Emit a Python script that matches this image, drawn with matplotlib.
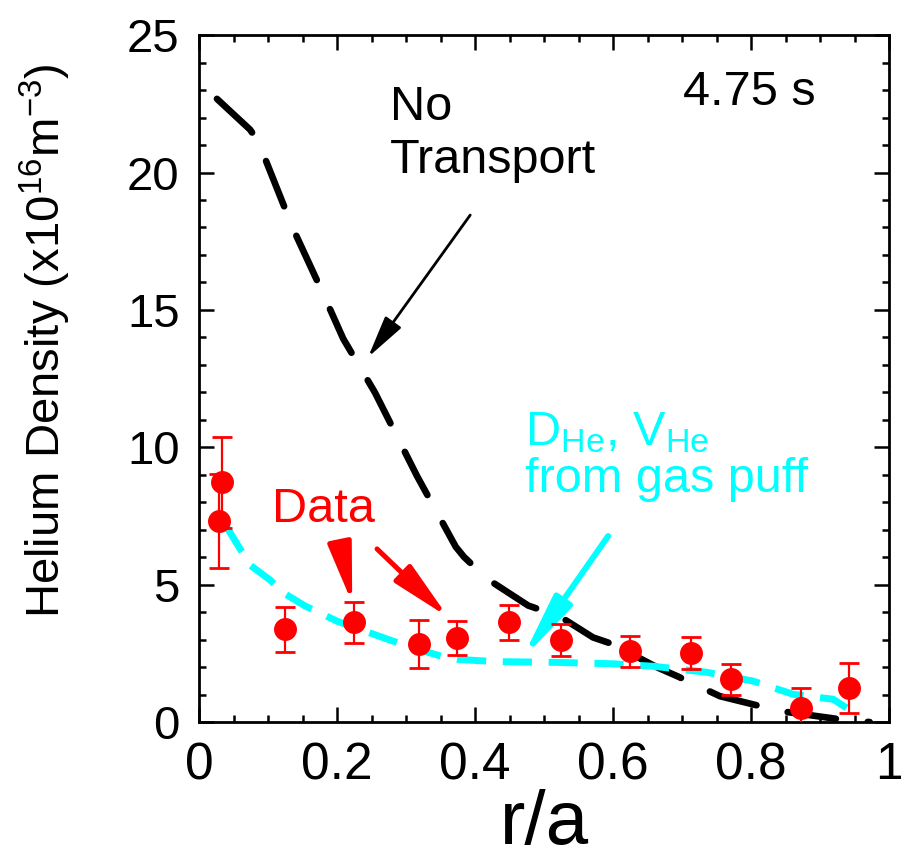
import numpy as np
import matplotlib
matplotlib.use("Agg")
import matplotlib.pyplot as plt
from matplotlib.ticker import MultipleLocator

plt.rcParams['font.family'] = ['Liberation Sans', 'DejaVu Sans']
plt.rcParams['mathtext.fontset'] = 'custom'
plt.rcParams['mathtext.rm'] = 'Liberation Sans'
plt.rcParams['mathtext.it'] = 'Liberation Sans:italic'

# measured helium density (x1e16 m^-3)
data_r = [0.029, 0.033, 0.124, 0.224, 0.319, 0.374, 0.449, 0.524, 0.624, 0.713, 0.771, 0.872, 0.942]
data_n = [7.32, 8.72, 3.37, 3.63, 2.85, 3.06, 3.63, 2.98, 2.57, 2.51, 1.55, 0.51, 1.24]
data_err = [1.7, 1.65, 0.82, 0.74, 0.87, 0.63, 0.63, 0.57, 0.55, 0.58, 0.55, 0.73, 0.9]

# simulation without transport
notr_r = [0.026, 0.074, 0.086, 0.136, 0.178, 0.209, 0.255, 0.316, 0.372, 0.384, 0.417,
          0.477, 0.523, 0.571, 0.600, 0.664, 0.693, 0.755, 0.842, 0.946, 0.972]
notr_n = [22.68, 21.56, 21.12, 17.97, 15.69, 13.95, 11.99, 8.95, 6.38, 6.01, 5.22,
          4.24, 3.84, 3.08, 2.83, 1.99, 1.67, 0.94, 0.40, 0.04, 0.0]

# simulation with D_He, V_He from gas puff
puff_r = [0.040, 0.062, 0.074, 0.103, 0.123, 0.154, 0.201, 0.303, 0.352, 0.375, 0.429,
          0.520, 0.600, 0.658, 0.736, 0.803, 0.861, 0.919, 0.948]
puff_n = [7.10, 6.20, 5.71, 5.17, 4.69, 4.22, 3.66, 2.75, 2.39, 2.28, 2.20,
          2.17, 2.12, 2.03, 1.81, 1.49, 1.01, 0.83, 0.36]

xtick_vals = [0, 0.2, 0.4, 0.6, 0.8, 1.0]
xtick_labels = ['0', '0.2', '0.4', '0.6', '0.8', '1']
ytick_vals = [0, 5, 10, 15, 20, 25]

fig = plt.figure(figsize=(9.01, 8.61), dpi=100)
ax = fig.add_axes([0.2209, 0.1614, 0.7658, 0.7978])

ax.plot(notr_r, notr_n, color='k', lw=4.8, dashes=(7.3, 4.8),
        dash_capstyle='round', solid_joinstyle='round')
ax.plot(puff_r, puff_n, color='#00ffff', lw=5, dashes=(4.2, 2.4))
ax.errorbar(data_r, data_n, yerr=data_err, fmt='o', color='#ff0000', ms=15.5,
            elinewidth=1.6, capsize=7, capthick=2, zorder=5)

ax.set_xlim(0, 1)
ax.set_ylim(0, 25)
ax.set_xticks(xtick_vals)
ax.set_xticklabels(xtick_labels)
ax.set_yticks(ytick_vals)
ax.xaxis.set_minor_locator(MultipleLocator(0.05))
ax.yaxis.set_minor_locator(MultipleLocator(1))
ax.tick_params(which='both', direction='in', top=True, right=True, width=1.8)
ax.tick_params(which='major', length=11, pad=14)
ax.tick_params(which='minor', length=5)
ax.tick_params(axis='x', labelsize=37)
ax.tick_params(axis='y', labelsize=34)
for s in ax.spines.values():
    s.set_linewidth(2)

ax.set_xlabel('r/a', fontsize=55)
ax.xaxis.set_label_coords(0.5, -0.098)
ax.set_ylabel('Helium Density (x10$^{16}$m$^{-3}$)', fontsize=34)
ax.yaxis.set_label_coords(-0.182, 0.555)

ax.text(0.701, 22.45, '4.75 s', fontsize=35, va='baseline')
ax.text(0.277, 21.9, 'No', fontsize=35, va='baseline')
ax.text(0.277, 20.0, 'Transport', fontsize=35, va='baseline')
ax.text(0.106, 7.28, 'Data', fontsize=35, va='baseline', color='#ff0000')
ax.text(0.472, 10.08, r'D$_{\mathrm{He}}$, V$_{\mathrm{He}}$', fontsize=35,
        va='baseline', color='#00ffff')
ax.text(0.472, 8.37, 'from gas puff', fontsize=35, va='baseline', color='#00ffff')

ax.annotate('', xy=(0.245, 13.28), xytext=(0.393, 18.45),
            arrowprops=dict(arrowstyle='-|>,head_length=1.3,head_width=0.3',
                            lw=2, color='k', mutation_scale=20,
                            shrinkA=0, shrinkB=0))
for tail, head in [((0.204, 6.51), (0.222, 4.33)), ((0.258, 6.30), (0.361, 3.82))]:
    ax.annotate('', xy=head, xytext=tail,
                arrowprops=dict(arrowstyle='-|>,head_length=1.8,head_width=0.36',
                                lw=3.6, color='#ff0000', mutation_scale=20,
                                shrinkA=0, shrinkB=0))
ax.annotate('', xy=(0.468, 2.29), xytext=(0.593, 6.77),
            arrowprops=dict(arrowstyle='-|>,head_length=1.9,head_width=0.3',
                            lw=4.3, color='#00ffff', mutation_scale=20,
                            shrinkA=0, shrinkB=0))

fig.savefig('out.png', dpi=100)
